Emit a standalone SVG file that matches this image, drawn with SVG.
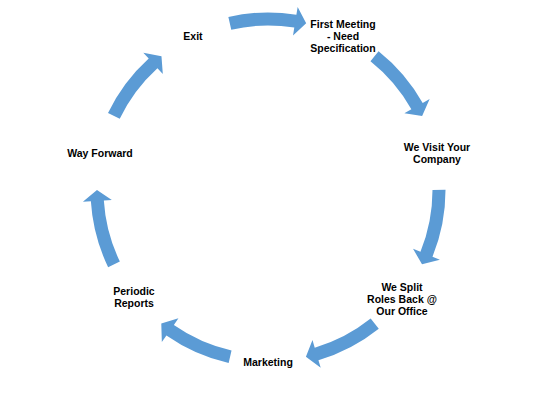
<svg xmlns="http://www.w3.org/2000/svg" xmlns:xlink="http://www.w3.org/1999/xlink" width="538" height="400" viewBox="0 0 538 400">
<style>
.lbl{font-family:"Liberation Sans",Arial,sans-serif;font-size:10.5px;font-weight:bold;fill:#000;text-anchor:middle}
.arr{fill:#5B9BD5}
</style>
<defs>
<path id="arrow" class="arr" d="M228.36,16.97 A177.5,177.5 0 0 1 296.38,14.79 L297.66,6.89 L306.18,23.31 L293.02,35.52 L294.30,27.62 A164.5,164.5 0 0 0 231.27,29.65 Z"/>
</defs>
<rect width="538" height="400" fill="#fff"/>
<g id="connectors">
<use xlink:href="#arrow" href="#arrow"/>
<use xlink:href="#arrow" href="#arrow" transform="rotate(51.43 268 190)"/>
<use xlink:href="#arrow" href="#arrow" transform="rotate(102.86 268 190)"/>
<use xlink:href="#arrow" href="#arrow" transform="rotate(154.29 268 190)"/>
<use xlink:href="#arrow" href="#arrow" transform="rotate(205.71 268 190)"/>
<use xlink:href="#arrow" href="#arrow" transform="rotate(257.14 268 190)"/>
<use xlink:href="#arrow" href="#arrow" transform="rotate(308.57 268 190)"/>
</g>
<g id="node-first-meeting"><text class="lbl" x="343" y="28">First Meeting</text><text class="lbl" x="343" y="40">- Need</text><text class="lbl" x="343" y="52">Specification</text></g>
<g id="node-visit"><text class="lbl" x="437" y="151">We Visit Your</text><text class="lbl" x="437" y="163">Company</text></g>
<g id="node-split"><text class="lbl" x="402" y="291">We Split</text><text class="lbl" x="402" y="303">Roles Back @</text><text class="lbl" x="402" y="315">Our Office</text></g>
<g id="node-marketing"><text class="lbl" x="268" y="366">Marketing</text></g>
<g id="node-periodic"><text class="lbl" x="134" y="295">Periodic</text><text class="lbl" x="134" y="307">Reports</text></g>
<g id="node-way-forward"><text class="lbl" x="100" y="157">Way Forward</text></g>
<g id="node-exit"><text class="lbl" x="193" y="40">Exit</text></g>
</svg>
